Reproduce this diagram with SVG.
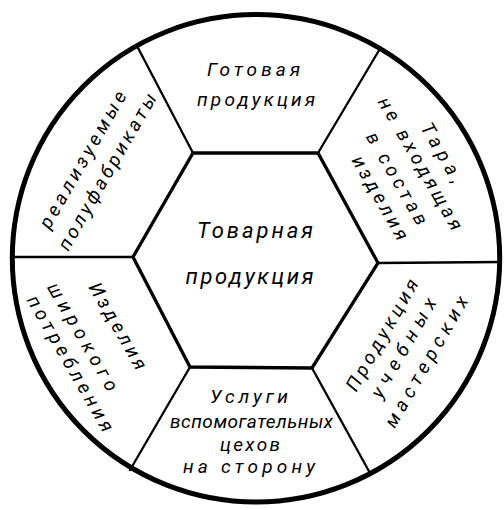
<svg xmlns="http://www.w3.org/2000/svg" width="504" height="510" viewBox="0 0 504 510">
<style>
.t{font-family:Roboto,"Noto Sans","Liberation Sans",sans-serif;font-style:italic;font-weight:400;font-size:19px;fill:#000;text-anchor:middle;lengthAdjust:spacing}
.big{font-size:22px}
.spoke{stroke:#000;stroke-width:2.3;fill:none;stroke-linecap:round}
</style>
<rect width="504" height="510" fill="#fff"/>
<g id="connectors">
<line class="spoke" x1="193" y1="153" x2="136.5" y2="45"/>
<line class="spoke" x1="318" y1="153" x2="380.4" y2="48"/>
<line class="spoke" x1="378" y1="263" x2="501" y2="262"/>
<line class="spoke" x1="312" y1="368" x2="370.5" y2="474"/>
<line class="spoke" x1="190" y1="367" x2="130" y2="470"/>
<line class="spoke" x1="133" y1="257" x2="12" y2="257"/>
<circle cx="256" cy="258.3" r="243.7" fill="none" stroke="#000" stroke-width="5"/>
</g>
<g id="center">
<polygon points="193,153 318,153 378,263 312,368 190,367 133,257" fill="#fff" stroke="#000" stroke-width="3.3" stroke-linejoin="miter"/>
<text class="t big" x="255" y="238" textLength="116">Товарная</text>
<text class="t big" x="249.5" y="284" textLength="128">продукция</text>
</g>
<g id="top">
<text class="t" x="253.5" y="76" textLength="93">Готовая</text>
<text class="t" x="256" y="106" textLength="118">продукция</text>
</g>
<g id="top-right">
<text class="t" transform="translate(440.8,153.5) rotate(60)" y="5" textLength="66">Тара,</text>
<text class="t" transform="translate(419.2,164.2) rotate(60)" y="5" textLength="150">не входящая</text>
<text class="t" transform="translate(395.8,179.2) rotate(60)" y="5" textLength="104">в состав</text>
<text class="t" transform="translate(379,198.5) rotate(60)" y="5" textLength="94">изделия</text>
</g>
<g id="bottom-right">
<text class="t" transform="translate(383.3,335.8) rotate(-60)" y="5" textLength="126">Продукция</text>
<text class="t" transform="translate(404.8,348.5) rotate(-60)" y="5" textLength="112">учебных</text>
<text class="t" transform="translate(427.5,362.5) rotate(-60)" y="5" textLength="148">мастерских</text>
</g>
<g id="bottom">
<text class="t" x="249" y="403" textLength="78">Услуги</text>
<text class="t" x="251.5" y="428" textLength="163">вспомогательных</text>
<text class="t" x="250" y="451" textLength="60">цехов</text>
<text class="t" x="249" y="473" textLength="132">на сторону</text>
</g>
<g id="bottom-left">
<text class="t" transform="translate(116.7,326.7) rotate(60)" y="5" textLength="97">Изделия</text>
<text class="t" transform="translate(81.7,337.5) rotate(60)" y="5" textLength="122">широкого</text>
<text class="t" transform="translate(69.2,364.2) rotate(60)" y="5" textLength="154">потребления</text>
</g>
<g id="top-left">
<text class="t" transform="translate(84,160.5) rotate(-60)" y="5" textLength="155">реализуемые</text>
<text class="t" transform="translate(108.3,172.5) rotate(-60)" y="5" textLength="178">полуфабрикаты</text>
</g>
</svg>
